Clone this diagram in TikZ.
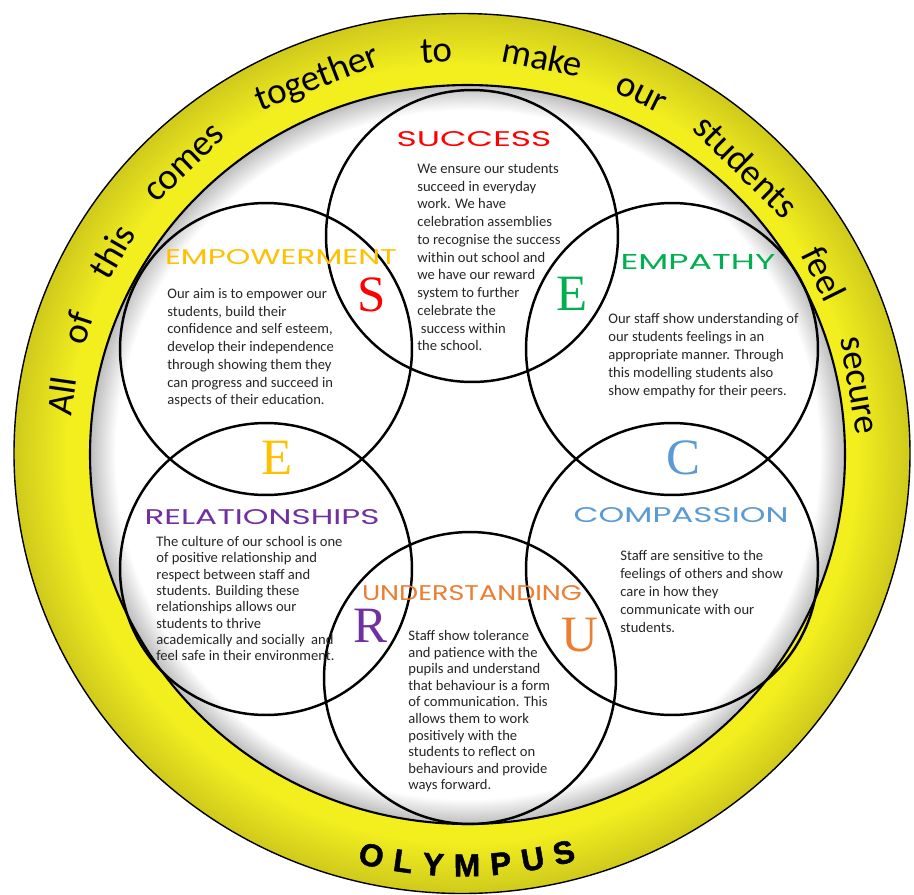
\documentclass[tikz,border=0pt]{standalone}
\usepackage{fontspec}
\usepackage{graphicx}
\setmainfont{Carlito}
\newfontfamily\titlefont{Poppins}
\newfontfamily\initialfont{Liberation Serif}
\newfontfamily\brandfont[BoldFeatures={FakeBold=1.6}]{Liberation Sans}

\definecolor{sRed}{HTML}{FF0000}
\definecolor{eGold}{HTML}{FFC000}
\definecolor{eGreen}{HTML}{00B050}
\definecolor{cBlue}{HTML}{5B9BD5}
\definecolor{rPurple}{HTML}{7030A0}
\definecolor{uOrange}{HTML}{ED7D31}
\definecolor{ringhi}{HTML}{F3EF1F}
\definecolor{ringlo}{HTML}{CFCA1C}
\definecolor{discedge}{HTML}{BDBDBD}

\pgfdeclareradialshading{ringshade}{\pgfpoint{0bp}{0bp}}{color(0bp)=(ringhi); color(22bp)=(ringhi); color(25bp)=(ringlo); color(50bp)=(ringlo)}
\pgfdeclareradialshading{discshade}{\pgfpoint{0bp}{0bp}}{color(0bp)=(white); color(23.3bp)=(white); color(25bp)=(discedge); color(50bp)=(discedge)}

\tikzset{
  venn/.style={circle, draw, line width=1.4pt, minimum size=5.84cm, inner sep=0pt},
  ttl/.style={inner sep=0pt},
  blurb/.style={anchor=north west, align=left, inner sep=0pt, text=black!85, font=\fontsize{8.3}{10.1}\selectfont},
  initial/.style={inner sep=0pt, font=\initialfont\fontsize{29}{29}\selectfont},
  ringword/.style={anchor=base, inner sep=0pt, font=\fontsize{21}{21}\selectfont},
  brand/.style={inner sep=0pt, font=\brandfont\bfseries\fontsize{18}{18}\selectfont}
}
\newcommand\ttltext[2]{\resizebox{#1}{0.30cm}{\titlefont #2}}

\begin{document}
\begin{tikzpicture}[x=0.02cm, y=-0.02cm]
  \useasboundingbox (0,0) rectangle (914,894);
  \coordinate (ring) at (462,453.5);
  \coordinate (disc) at (467.5,454.5);

  % yellow band and white inside
  \shade[shading=ringshade] (ring) ellipse [x radius=448, y radius=440];
  \draw[line width=0.8pt] (ring) ellipse [x radius=448, y radius=440];
  \shade[shading=discshade] (disc) ellipse [x radius=377.5, y radius=369.5];
  \draw[line width=1.2pt] (disc) ellipse [x radius=377.5, y radius=369.5];

  \node[venn] (success) at (472,236) {};
  \node[venn] (empower) at (266,349) {};
  \node[venn] (empathy) at (672,349) {};
  \node[venn] (relation) at (266,569) {};
  \node[venn] (compassion) at (672,569) {};
  \node[venn] (underst) at (470,678) {};

  \node[ttl, text=sRed] (successT) at (474,139) {\ttltext{3.10cm}{SUCCESS}};
  \node[ttl, text=eGold] (empowerT) at (281,257) {\ttltext{4.64cm}{EMPOWERMENT}};
  \node[ttl, text=eGreen] (empathyT) at (698,262) {\ttltext{3.10cm}{EMPATHY}};
  \node[ttl, text=rPurple] (relationT) at (262,517) {\ttltext{4.70cm}{RELATIONSHIPS}};
  \node[ttl, text=cBlue] (compassionT) at (681,515) {\ttltext{4.30cm}{COMPASSION}};
  \node[ttl, text=uOrange] (understT) at (472,593) {\ttltext{4.40cm}{UNDERSTANDING}};

  \node[initial, text=sRed] (iS) at (372,295) {S};
  \node[initial, text=eGreen] (iE) at (572,294) {E};
  \node[initial, text=eGold] (iE2) at (277,458) {E};
  \node[initial, text=cBlue] (iC) at (683,458) {C};
  \node[initial, text=rPurple] (iR) at (370,626) {R};
  \node[initial, text=uOrange] (iU) at (580,635) {U};

  \node[blurb] (successB) at (417,163) {We ensure our students\\succeed in everyday\\work. We have\\celebration assemblies\\to recognise the success\\within out school and\\we have our reward\\system to further\\celebrate the\\\hspace{2pt}success within\\the school.};
  \node[blurb] (empowerB) at (167,288) {Our aim is to empower our\\students, build their\\confidence and self esteem,\\develop their independence\\through showing them they\\can progress and succeed in\\aspects of their education.};
  \node[blurb, font=\fontsize{8.3}{10.3}\selectfont] (empathyB) at (608,313) {Our staff show understanding of\\our students feelings in an\\appropriate manner. Through\\this modelling students also\\show empathy for their peers.};
  \node[blurb, font=\fontsize{8.3}{9.3}\selectfont] (relationB) at (156,536) {The culture of our school is one\\of positive relationship and\\respect between staff and\\students. Building these\\relationships allows our\\students to thrive\\academically and socially\ \ and\\feel safe in their environment.};
  \node[blurb, font=\fontsize{8.3}{10.3}\selectfont] (compassionB) at (620,550) {Staff are sensitive to the\\feelings of others and show\\care in how they\\communicate with our\\students.};
  \node[blurb, font=\fontsize{8.3}{9.45}\selectfont] (understB) at (408,630) {Staff show tolerance\\and patience with the\\pupils and understand\\that behaviour is a form\\of communication. This\\allows them to work\\positively with the\\students to reflect on\\behaviours and provide\\ways forward.};

  \foreach \ang/\word [count=\i] in {171.8/All, 161.9/of, 150/this, 133.7/comes, 111.1/together, 93.6/to, 78.5/make, 63.5/our, 45.3/students, 26.4/feel, 9.7/secure}
    \node[ringword, rotate=\ang-90] (word\i) at ([shift={(\ang:7.84cm)}]ring) {\word};

  \foreach \ang/\ch [count=\i] in {257.3/O, 261.8/L, 266/Y, 270.7/M, 275.4/P, 279.9/U, 284.3/S}
    \node[brand, rotate=\ang+90] (brand\i) at ([shift={(\ang:8.24cm)}]ring) {\ch};
\end{tikzpicture}
\end{document}
